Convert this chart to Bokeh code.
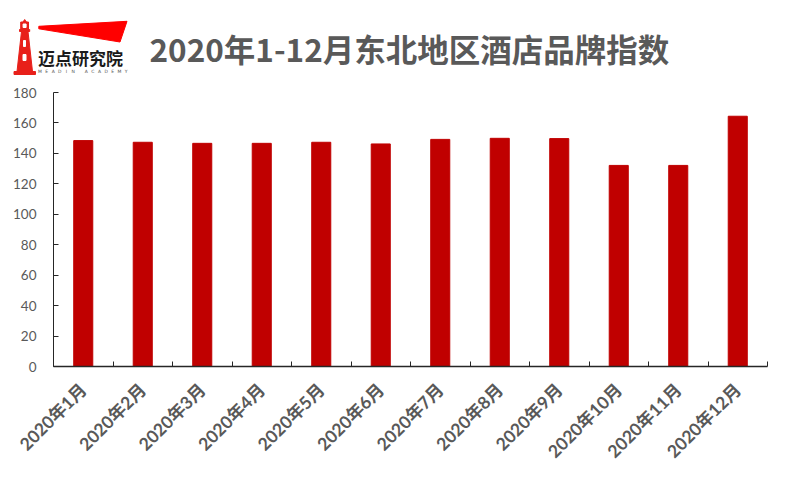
import numpy as np
from bokeh.plotting import figure
from bokeh.models import Range1d, FixedTicker
from bokeh.core.properties import value
from bokeh.embed import file_html
from bokeh.resources import INLINE

# ---- data ----
months = ["2020年1月", "2020年2月", "2020年3月", "2020年4月", "2020年5月", "2020年6月",
          "2020年7月", "2020年8月", "2020年9月", "2020年10月", "2020年11月", "2020年12月"]
values = [148.4, 147.3, 146.6, 146.6, 147.3, 146.2, 149.2, 149.9, 149.7, 132.1, 132.1, 164.4]
y_ticks = [0, 20, 40, 60, 80, 100, 120, 140, 160, 180]
y_max = 180
title_text = "2020年1-12月东北地区酒店品牌指数"
logo_text = "迈点研究院"
logo_sub = "MEADIN ACADEMY"

# ---- layout constants (page pixels) ----
W, H = 790, 470
PLOT_L, PLOT_R, PLOT_T, PLOT_B = 53, 767, 92, 366
BAR_COLOR = "#C00000"
TEXT_GREY = "#595959"
LOGO_RED = "#E8201A"
AXIS_COL = "#262626"

n = len(months)
u = (PLOT_R - PLOT_L) / n          # px per category
v = (PLOT_B - PLOT_T) / y_max      # px per value unit
p = figure(width=W, height=H,
           x_range=Range1d(-PLOT_L / u, n + (W - PLOT_R) / u),
           y_range=Range1d(-(H - PLOT_B) / v, y_max + PLOT_T / v),
           output_backend="svg", toolbar_location=None, min_border=0,
           outline_line_color=None)
p.grid.visible = False
p.extra_x_ranges = {"px": Range1d(0, W)}
p.extra_y_ranges = {"py": Range1d(H, 0)}

xs = np.arange(n) + 0.5
p.vbar(x=xs, top=values, width=0.32, color=BAR_COLOR)

xa = p.xaxis[0]
xa.fixed_location = 0
xa.bounds = (0, n)
xa.ticker = FixedTicker(ticks=list(xs), minor_ticks=list(range(n + 1)))
xa.major_label_overrides = {float(x): m for x, m in zip(xs, months)}
xa.major_label_orientation = np.pi / 4
xa.major_tick_in = 0
xa.major_tick_out = 0
xa.minor_tick_in = 5
xa.minor_tick_out = 0
xa.minor_tick_line_color = AXIS_COL
xa.axis_line_color = AXIS_COL
xa.axis_line_width = 1.5
xa.major_label_text_font = "Lato, 'Noto Sans CJK SC'"
xa.major_label_text_font_style = "bold"
xa.major_label_text_font_size = "17.5px"
xa.major_label_text_color = TEXT_GREY
xa.major_label_standoff = 20

ya = p.yaxis[0]
ya.fixed_location = 0
ya.bounds = (0, y_max)
ya.ticker = FixedTicker(ticks=y_ticks)
ya.major_tick_in = 5
ya.major_tick_out = 0
ya.minor_tick_in = 0
ya.minor_tick_out = 0
ya.major_tick_line_color = AXIS_COL
ya.axis_line_color = AXIS_COL
ya.major_label_text_font = "Lato"
ya.major_label_text_font_size = "13.5px"
ya.major_label_text_color = TEXT_GREY
ya.major_label_standoff = 17

# ---- header decoration (page pixel coordinates) ----
def shape(xv, yv, color):
    p.patch(xv, yv, color=color, x_range_name="px", y_range_name="py")


shape([22.5, 25.8, 24.2], [21.5, 21.5, 19.0], LOGO_RED)
shape([20.2, 28.0, 28.0, 20.2], [21.5, 21.5, 29.0, 29.0], LOGO_RED)
shape([19.0, 29.2, 29.2, 19.0], [29.0, 29.0, 31.0, 31.0], LOGO_RED)
shape([21.0, 27.5, 32.0, 16.5], [31.0, 31.0, 71.0, 71.0], LOGO_RED)
shape([13.5, 35.0, 35.0, 13.5], [71.0, 71.0, 74.0, 74.0], LOGO_RED)
shape([22.6, 25.6, 25.6, 22.6], [23.5, 23.5, 27.0, 27.0], "white")
shape([23.0, 25.0, 25.0, 23.0], [40.0, 40.0, 46.0, 46.0], "white")
shape([22.5, 25.5, 25.5, 22.5], [54.0, 54.0, 60.0, 60.0], "white")
shape([38.3, 126.5, 119.5, 38.3], [25.8, 20.8, 41.5, 28.3], "#FF0000")

p.text(x=[37.5], y=[56.5], text=[logo_text], x_range_name="px", y_range_name="py",
       text_font=value("Noto Sans CJK SC"), text_font_style="bold", text_font_size="17px",
       text_color="#1a1a1a", text_baseline="middle", text_align="left")
p.text(x=list(np.linspace(39.5, 125.5, len(logo_sub))), y=[70.5] * len(logo_sub),
       text=list(logo_sub), x_range_name="px", y_range_name="py",
       text_font=value("DejaVu Sans"), text_font_size="4.5px", text_color="#555555",
       text_align="center", text_baseline="middle")
p.text(x=[149], y=[47], text=[title_text], x_range_name="px", y_range_name="py",
       text_font=value("Noto Sans CJK SC"), text_font_style="bold", text_font_size="31.5px",
       text_color=TEXT_GREY, text_baseline="middle", text_align="left")

open("out.html", "w").write(file_html(p, INLINE))
